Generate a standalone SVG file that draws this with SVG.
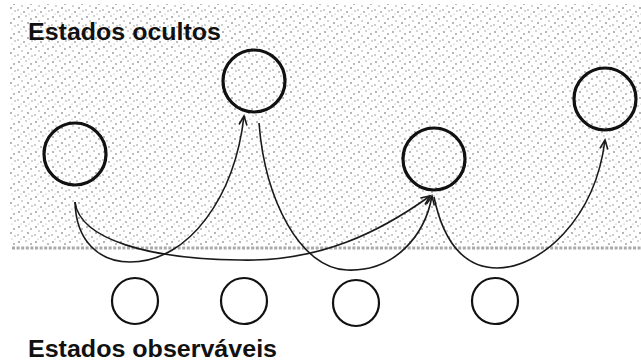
<svg xmlns="http://www.w3.org/2000/svg" width="641" height="362" viewBox="0 0 641 362">
<style>
.hid{fill:none;stroke:#111;stroke-width:3.2}
.obs{fill:none;stroke:#111;stroke-width:2.2}
.edge{fill:none;stroke:#1a1a1a;stroke-width:1.6;marker-end:url(#arr)}
.lbl{font-family:"Liberation Sans",Arial,sans-serif;font-weight:bold;font-size:23px;fill:#111}
</style>
<defs>
<pattern id="stip" width="17" height="15" patternUnits="userSpaceOnUse">
<circle cx="2" cy="2" r="0.8" fill="#555"/>
<circle cx="9" cy="1" r="0.7" fill="#888"/>
<circle cx="14" cy="4" r="0.8" fill="#666"/>
<circle cx="5" cy="6" r="0.7" fill="#888"/>
<circle cx="11" cy="8" r="0.8" fill="#555"/>
<circle cx="1" cy="10" r="0.7" fill="#777"/>
<circle cx="7" cy="12" r="0.8" fill="#666"/>
<circle cx="15" cy="11" r="0.7" fill="#888"/>
<circle cx="12" cy="14" r="0.6" fill="#999"/>
<circle cx="4" cy="14" r="0.6" fill="#999"/>
</pattern>
<marker id="arr" markerUnits="userSpaceOnUse" markerWidth="14" markerHeight="14" refX="10" refY="5" orient="auto" viewBox="0 0 14 10">
<path d="M1,1 L10,5 L1,9" fill="none" stroke="#1a1a1a" stroke-width="1.6"/>
</marker>
</defs>
<rect x="0" y="0" width="641" height="362" fill="#fff"/>
<rect id="hidden-region" x="10" y="4" width="631" height="241" fill="url(#stip)"/>
<line x1="12" y1="248" x2="641" y2="248" stroke="#aaa" stroke-width="3" stroke-dasharray="3 1.6"/>
<text id="label-hidden" class="lbl" x="28" y="40" textLength="193" lengthAdjust="spacingAndGlyphs">Estados ocultos</text>
<text id="label-observed" class="lbl" x="28" y="357" textLength="249" lengthAdjust="spacingAndGlyphs">Estados observáveis</text>
<g id="connectors">
<path class="edge" d="M75,202 C76,242 100,262 130,262 C190,262 235,195 244,116"/>
<path class="edge" d="M75,202 C80,240 150,259 240,260 C320,262 380,232 430,196"/>
<path class="edge" d="M259,123 C265,200 300,268 347,270 C395,272 425,235 432,196"/>
<path class="edge" d="M434,197 C445,250 470,268 497,268 C540,268 595,220 605,140"/>
</g>
<g id="h1"><circle class="hid" cx="75" cy="154" r="31"/></g>
<g id="h2"><circle class="hid" cx="254" cy="81" r="31"/></g>
<g id="h3"><circle class="hid" cx="434" cy="159" r="31"/></g>
<g id="h4"><circle class="hid" cx="605" cy="99" r="31"/></g>
<g id="o1"><circle class="obs" cx="135" cy="301" r="23"/></g>
<g id="o2"><circle class="obs" cx="244" cy="301" r="23"/></g>
<g id="o3"><circle class="obs" cx="356" cy="303" r="23"/></g>
<g id="o4"><circle class="obs" cx="495" cy="301" r="23"/></g>
</svg>
